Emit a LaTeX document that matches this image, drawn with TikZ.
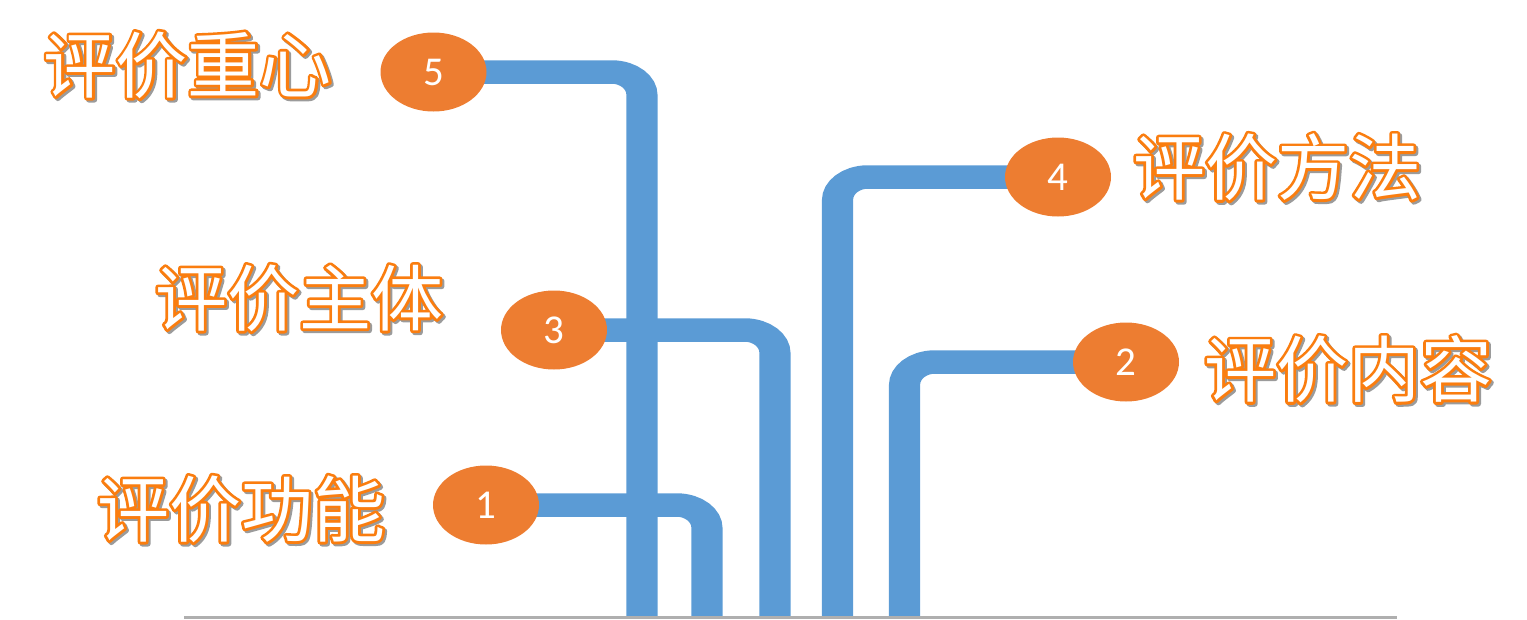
\documentclass[tikz,border=0pt]{standalone}
\usepackage{fontspec}
\newfontfamily\cjkfont{Noto Sans CJK SC}
\newfontfamily\numfont{Carlito}
\usepackage{tikz}
\usetikzlibrary{positioning,shapes.geometric,calc,backgrounds}

\definecolor{pipeblue}{HTML}{5B9BD5}
\definecolor{dotorange}{HTML}{ED7D31}
\definecolor{lblorange}{RGB}{250,125,15}
\definecolor{lblshadow}{RGB}{155,155,155}
\definecolor{axisgray}{HTML}{AFAFAF}

% outlined label text with a soft shadow
\newcommand{\fancylabel}[1]{%
  \makebox[0pt][l]{\kern2pt\raisebox{-2pt}{\textcolor{lblshadow}{%
    \special{pdf:literal 5.5 w 1 j 2 Tr}#1\special{pdf:literal 0 Tr}}}}%
  \makebox[0pt][l]{\textcolor{lblorange}{%
    \special{pdf:literal 5.5 w 1 j 1 Tr}#1\special{pdf:literal 0 Tr}}}%
  \textcolor{white}{#1}}

\begin{document}
\begin{tikzpicture}[
  x=1pt, y=-1pt,
  numdot/.style={
    ellipse, fill=dotorange, text=white,
    minimum width=106pt, minimum height=79pt, inner sep=0pt,
    font=\numfont\fontsize{41}{41}\selectfont
  },
  lbl/.style={inner sep=0pt, font=\cjkfont\fontsize{72}{80}\selectfont},
  pipe/.style={draw=pipeblue, line width=23.5pt, rounded corners=23pt}
]
\useasboundingbox (0,0) rectangle (1527,619);

\node[numdot] (n5) at (433.5,72) {5};
\node[numdot] (n4) at (1058,177) {4};
\node[numdot] (n3) at (554,330) {3};
\node[numdot] (n2) at (1126,362) {2};
\node[numdot] (n1) at (486,505) {1};

\node[lbl] (t5) at (187.5,66) {\fancylabel{评价重心}};
\node[lbl] (t4) at (1277,168) {\fancylabel{评价方法}};
\node[lbl] (t3) at (299,299) {\fancylabel{评价主体}};
\node[lbl] (t2) at (1348,370) {\fancylabel{评价内容}};
\node[lbl] (t1) at (241,510) {\fancylabel{评价功能}};

\coordinate (b5) at (642,616.5);
\coordinate (b1) at (707,616.5);
\coordinate (b3) at (775,616.5);
\coordinate (b4) at (837.5,616.5);
\coordinate (b2) at (904.5,616.5);

\begin{pgfonlayer}{background}
\begin{scope}[transform canvas={xscale=1.32}]
\draw[pipe] let \p1=(n5), \p2=(b5) in (\x1/1.32,\y1) -| (\x2/1.32,\y2);
\draw[pipe] let \p1=(n4), \p2=(b4) in (\x1/1.32,\y1) -| (\x2/1.32,\y2);
\draw[pipe] let \p1=(n3), \p2=(b3) in (\x1/1.32,\y1) -| (\x2/1.32,\y2);
\draw[pipe] let \p1=(n2), \p2=(b2) in (\x1/1.32,\y1) -| (\x2/1.32,\y2);
\draw[pipe] let \p1=(n1), \p2=(b1) in (\x1/1.32,\y1) -| (\x2/1.32,\y2);
\end{scope}
\end{pgfonlayer}

\coordinate (axl) at (184,617.5);
\coordinate (axr) at (1397,617.5);
\draw[axisgray, line width=2.5pt] (axl) -- (axr);

\end{tikzpicture}
\end{document}
